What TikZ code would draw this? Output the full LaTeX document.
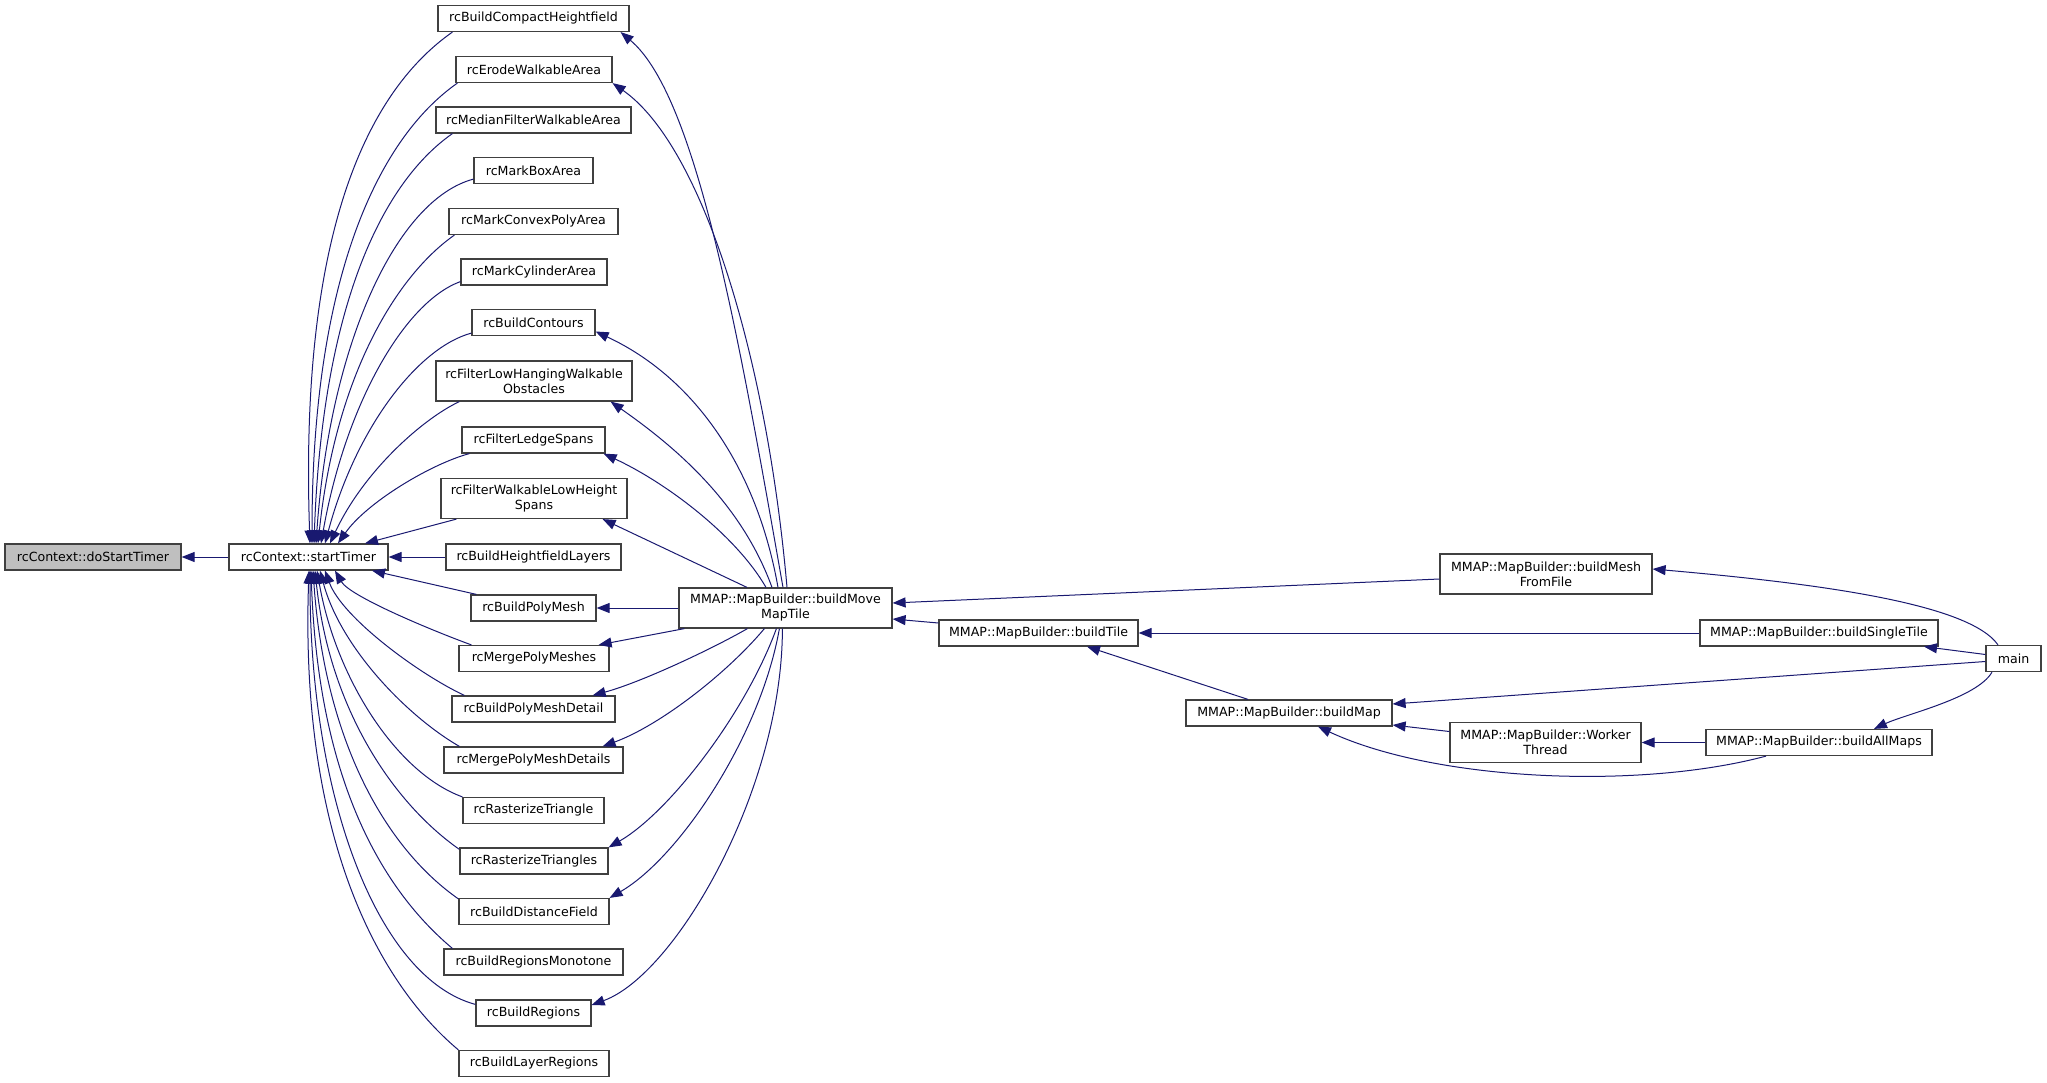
\documentclass[tikz,border=0pt]{standalone}
\usepackage{fontspec}
\setmainfont{DejaVu Sans}
\usetikzlibrary{arrows.meta}
\definecolor{edgec}{RGB}{25,25,112}
\definecolor{boxc}{RGB}{64,64,64}
\definecolor{selc}{RGB}{191,191,191}
\begin{document}
\begin{tikzpicture}[x=1pt,y=-1pt,
  box/.style={draw=boxc, line width=1.2pt, fill=white, inner sep=0pt, align=center,
    font=\fontsize{12.6pt}{15pt}\selectfont, minimum height=26pt},
  tall/.style={minimum height=40pt},
  e/.style={draw=edgec, line width=1pt, -{Triangle[length=13pt,width=10pt]}}]
\useasboundingbox (0,0) rectangle (2047,1083);
% left
\node[box, fill=selc, minimum width=176pt] (dst) at (93,557) {rcContext::doStartTimer};
\node[box, minimum width=159pt] (st) at (308.5,557) {rcContext::startTimer};
% middle column
\node[box, minimum width=191pt] (cbch) at (533.5,18.5) {rcBuildCompactHeightfield};
\node[box, minimum width=156pt] (erode) at (534,69.5) {rcErodeWalkableArea};
\node[box, minimum width=195pt] (median) at (533.5,120) {rcMedianFilterWalkableArea};
\node[box, minimum width=119pt] (mba) at (533.5,170.5) {rcMarkBoxArea};
\node[box, minimum width=169pt] (mcpa) at (533.5,221.5) {rcMarkConvexPolyArea};
\node[box, minimum width=146pt] (mca) at (534,272) {rcMarkCylinderArea};
\node[box, minimum width=123pt] (bc) at (533.5,322.5) {rcBuildContours};
\node[box, tall, minimum width=196pt] (flh) at (534,381) {rcFilterLowHangingWalkable\\Obstacles};
\node[box, minimum width=143pt] (fls) at (533.5,440) {rcFilterLedgeSpans};
\node[box, tall, minimum width=186pt] (wlh) at (534,498.5) {rcFilterWalkableLowHeight\\Spans};
\node[box, minimum width=175pt] (hfl) at (533.5,557) {rcBuildHeightfieldLayers};
\node[box, minimum width=125pt] (pm) at (533.5,608) {rcBuildPolyMesh};
\node[box, minimum width=150pt] (mpm) at (534,658.5) {rcMergePolyMeshes};
\node[box, minimum width=163pt] (pmd) at (533.5,709) {rcBuildPolyMeshDetail};
\node[box, minimum width=179pt] (mpmd) at (533.5,760) {rcMergePolyMeshDetails};
\node[box, minimum width=141pt] (rt) at (533.5,810.5) {rcRasterizeTriangle};
\node[box, minimum width=148pt] (rts) at (534,861) {rcRasterizeTriangles};
\node[box, minimum width=150pt] (bdf) at (534,911.5) {rcBuildDistanceField};
\node[box, minimum width=179pt] (brm) at (533.5,962) {rcBuildRegionsMonotone};
\node[box, minimum width=115pt] (br) at (533.5,1013) {rcBuildRegions};
\node[box, minimum width=150pt] (blr) at (534,1063.5) {rcBuildLayerRegions};
% right part
\node[box, tall, minimum width=213pt] (mt) at (785.5,608) {MMAP::MapBuilder::buildMove\\MapTile};
\node[box, minimum width=199pt] (bt) at (1038.5,633) {MMAP::MapBuilder::buildTile};
\node[box, minimum width=206pt] (bm) at (1289,713) {MMAP::MapBuilder::buildMap};
\node[box, tall, minimum width=212pt] (mff) at (1546,574) {MMAP::MapBuilder::buildMesh\\FromFile};
\node[box, tall, minimum width=191pt] (wt) at (1545.5,742.5) {MMAP::MapBuilder::Worker\\Thread};
\node[box, minimum width=238pt] (sgt) at (1819,633) {MMAP::MapBuilder::buildSingleTile};
\node[box, minimum width=226pt] (am) at (1819,742.5) {MMAP::MapBuilder::buildAllMaps};
\node[box, minimum width=55pt] (main) at (2013.5,658.5) {main};

% edges to doStartTimer
\draw[e] (st.west) -- (dst.east);
% upper callers of startTimer
\draw[e] ([xshift=15pt]cbch.south west) to[out=215,in=92,out distance=110pt,in distance=300pt] ([xshift=1.5pt]st.north);
\draw[e] ([xshift=2pt]erode.south west) to[out=215,in=90,out distance=100pt,in distance=260pt] ([xshift=3.5pt]st.north);
\draw[e] ([xshift=17pt]median.south west) to[out=215,in=88,out distance=90pt,in distance=230pt] ([xshift=5.5pt]st.north);
\draw[e] ([yshift=5pt]mba.south west) to[out=195,in=86,out distance=80pt,in distance=200pt] ([xshift=7.5pt]st.north);
\draw[e] ([xshift=6pt]mcpa.south west) to[out=215,in=84,out distance=70pt,in distance=170pt] ([xshift=9.5pt]st.north);
\draw[e] ([yshift=4pt]mca.south west) to[out=200,in=80,out distance=60pt,in distance=140pt] ([xshift=12.5pt]st.north);
\draw[e] ([yshift=3pt]bc.south west) to[out=195,in=75,out distance=55pt,in distance=120pt] ([xshift=16.5pt]st.north);
\draw[e] ([xshift=24pt]flh.south west) to[out=205,in=65,out distance=40pt,in distance=80pt] ([xshift=21.5pt]st.north);
\draw[e] ([xshift=8pt]fls.south west) to[out=195,in=55,out distance=40pt,in distance=50pt] ([xshift=29.5pt]st.north);
\draw[e] ([xshift=16pt]wlh.south west) -- ([xshift=56.5pt]st.north);
\draw[e] (hfl.west) -- (st.east);
% lower callers of startTimer
\draw[e] ([xshift=6pt]pm.north west) -- ([xshift=63.5pt]st.south);
\draw[e] ([xshift=13pt]mpm.north west) to[out=160,in=-60,out distance=40pt,in distance=30pt] ([xshift=26.5pt]st.south);
\draw[e] ([xshift=13pt]pmd.north west) to[out=155,in=-70,out distance=50pt,in distance=50pt] ([xshift=16.5pt]st.south);
\draw[e] ([xshift=16pt]mpmd.north west) to[out=150,in=-75,out distance=60pt,in distance=80pt] ([xshift=11.5pt]st.south);
\draw[e] (rt.north west) to[out=160,in=-80,out distance=70pt,in distance=110pt] ([xshift=8.5pt]st.south);
\draw[e] ([yshift=-2pt]rts.north west) to[out=145,in=-84,out distance=80pt,in distance=140pt] ([xshift=6.5pt]st.south);
\draw[e] ([yshift=-1pt]bdf.north west) to[out=145,in=-86,out distance=90pt,in distance=170pt] ([xshift=4.5pt]st.south);
\draw[e] ([xshift=9pt]brm.north west) to[out=140,in=-88,out distance=100pt,in distance=200pt] ([xshift=2.5pt]st.south);
\draw[e] ([yshift=-5pt]br.north west) to[out=165,in=-90,out distance=100pt,in distance=230pt] ([xshift=1.5pt]st.south);
\draw[e] (blr.north west) to[out=140,in=-92,out distance=110pt,in distance=260pt] ([xshift=0.5pt]st.south);
% MapTile callees
\draw[e] ([xshift=-2.5pt]mt.north) to[out=100,in=-40,out distance=250pt,in distance=100pt] ([xshift=-9pt]cbch.south east);
\draw[e] ([xshift=1.5pt]mt.north) to[out=95,in=-35,out distance=230pt,in distance=110pt] (erode.south east);
\draw[e] ([xshift=-7.5pt]mt.north) to[out=100,in=-25,out distance=120pt,in distance=110pt] ([yshift=-9pt]bc.east);
\draw[e] ([xshift=-13.5pt]mt.north) to[out=110,in=-35,out distance=90pt,in distance=80pt] ([xshift=-22pt]flh.south east);
\draw[e] ([xshift=-19.5pt]mt.north) to[out=120,in=-25,out distance=60pt,in distance=70pt] ([xshift=-2pt]fls.south east);
\draw[e] ([xshift=-38.5pt]mt.north) -- ([xshift=-25pt]wlh.south east);
\draw[e] (mt.west) -- (pm.east);
\draw[e] ([xshift=6pt]mt.south west) -- ([xshift=-11pt]mpm.north east);
\draw[e] ([xshift=69pt]mt.south west) to[out=-150,in=15,out distance=40pt,in distance=50pt] ([xshift=-23pt]pmd.north east);
\draw[e] ([xshift=86pt]mt.south west) to[out=-130,in=20,out distance=60pt,in distance=60pt] ([xshift=-21pt]mpmd.north east);
\draw[e] ([xshift=98pt]mt.south west) to[out=-110,in=30,out distance=90pt,in distance=70pt] (rts.north east);
\draw[e] ([xshift=101pt]mt.south west) to[out=-100,in=30,out distance=110pt,in distance=80pt] (bdf.north east);
\draw[e] ([xshift=104pt]mt.south west) to[out=-90,in=20,out distance=160pt,in distance=90pt] ([yshift=8pt]br.east);
% right part edges
\draw[e] ([yshift=-5pt]mff.west) -- ([yshift=5pt]mt.east);
\draw[e] ([yshift=10pt]bt.west) -- ([yshift=-11pt]mt.east);
\draw[e] (sgt.west) -- (bt.east);
\draw[e] ([xshift=-41pt]bm.north) -- ([xshift=48.5pt]bt.south);
\draw[e] ([xshift=-15.5pt]main.north) to[out=125,in=-5,out distance=50pt,in distance=170pt] ([yshift=5pt]mff.east);
\draw[e] ([yshift=4pt]main.west) -- ([xshift=105pt]sgt.south);
\draw[e] ([yshift=-3pt]main.west) -- ([yshift=9pt]bm.east);
\draw[e] ([yshift=11pt]wt.west) -- ([yshift=-12pt]bm.east);
\draw[e] (am.west) -- (wt.east);
\draw[e] ([xshift=-53pt]am.south) to[out=-165,in=-25,out distance=130pt,in distance=130pt] ([xshift=29pt]bm.south);
\draw[e] ([xshift=-21.5pt]main.south) to[out=-120,in=25,out distance=30pt,in distance=35pt] ([xshift=55pt]am.north);
\end{tikzpicture}
\end{document}
